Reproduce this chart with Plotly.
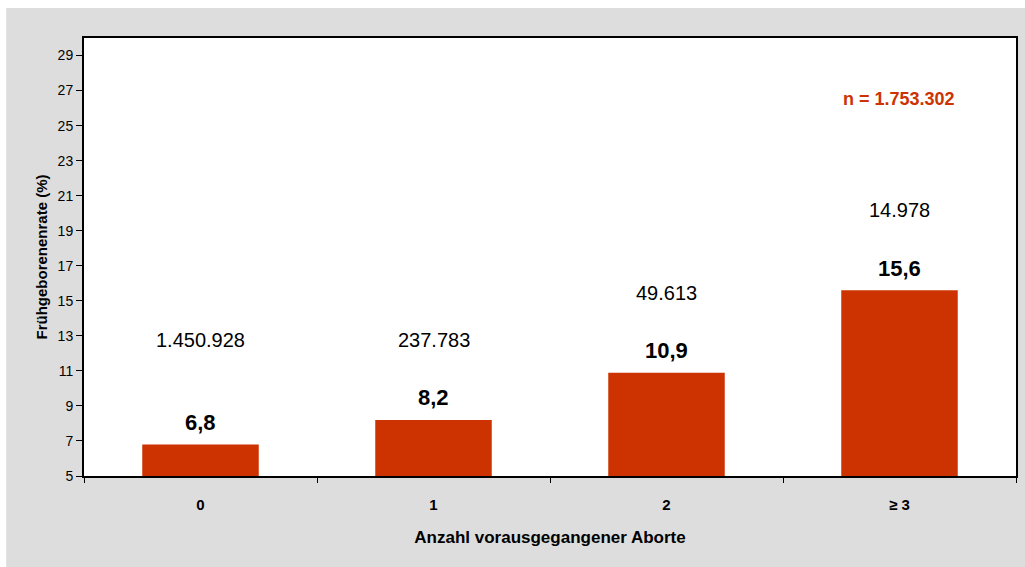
import plotly.graph_objects as go

categories = ["0", "1", "2", "≥ 3"]
rates = [6.8, 8.2, 10.9, 15.6]
rate_labels = ["6,8", "8,2", "10,9", "15,6"]
counts = ["1.450.928", "237.783", "49.613", "14.978"]
total_label = "n = 1.753.302"
y_ticks = list(range(5, 30, 2))

BAR = "#CC3300"
GRAY = "#DDDDDD"
FONT = "Arial, Liberation Sans, sans-serif"

W, H = 1025, 567
ML, MR, MT, MB = 84, 7, 38, 91
PW, PH = W - ML - MR, H - MT - MB

fig = go.Figure()
fig.add_trace(go.Bar(
    x=categories, y=[r - 5 for r in rates], base=5,
    marker=dict(color=BAR, line=dict(width=0)),
    width=0.5, hoverinfo="skip", showlegend=False,
))

annotations = []
for c, r, lab, n in zip(categories, rates, rate_labels, counts):
    annotations.append(dict(x=c, y=r, text="<b>%s</b>" % lab, showarrow=False,
                            yshift=22, font=dict(family=FONT, size=22, color="black")))
    ny = max(r, rates[1])
    annotations.append(dict(x=c, y=ny, text=n, showarrow=False, yshift=80,
                            font=dict(family=FONT, size=20, color="black")))
annotations.append(dict(x=0.874, xref="paper", xanchor="center", y=26.5, yref="y",
                        text="<b>%s</b>" % total_label,
                        showarrow=False, font=dict(family=FONT, size=18, color=BAR)))

# grey panel behind the chart, leaving a thin white border at top and left
panel = dict(type="rect", xref="paper", yref="paper", layer="below",
             x0=(6 - ML) / PW, x1=(W - ML) / PW + 0.02,
             y0=-(MB + 5) / PH, y1=(PH + MT - 8) / PH,
             fillcolor=GRAY, line=dict(width=0))
plot_bg = dict(type="rect", xref="paper", yref="paper", layer="below",
               x0=0, x1=1, y0=0, y1=1, fillcolor="white", line=dict(width=0))

fig.update_layout(
    width=W, height=H,
    margin=dict(l=ML, r=MR, t=MT, b=MB),
    paper_bgcolor="white", plot_bgcolor="white",
    font=dict(family=FONT, color="black"),
    annotations=annotations, shapes=[panel, plot_bg],
    bargap=0.5,
)
fig.update_xaxes(
    type="category", showgrid=False, showline=True, linecolor="black", linewidth=2,
    mirror=True, ticks="outside", tickson="boundaries", ticklen=5, tickcolor="black",
    tickwidth=1, tickfont=dict(family=FONT, size=15, color="black"),
    ticklabelstandoff=14,
    ticktext=["<b>%s</b>" % c for c in categories], tickvals=categories,
    title=dict(text="<b>Anzahl vorausgegangener Aborte</b>",
               font=dict(family=FONT, size=17, color="black"), standoff=19),
    fixedrange=True,
)
fig.update_yaxes(
    range=[5, 30], tickvals=y_ticks, showgrid=False, zeroline=False,
    showline=True, linecolor="black", linewidth=2, mirror=True,
    ticks="outside", ticklen=6, tickcolor="black", tickwidth=1,
    tickfont=dict(family=FONT, size=14, color="black"),
    title=dict(text="<b>Frühgeborenenrate (%)</b>",
               font=dict(family=FONT, size=15, color="black"), standoff=6),
    fixedrange=True,
)

fig.write_html("out.html", config={"displayModeBar": False},
               post_script="document.body.style.margin='0';"
                           "document.documentElement.style.overflow='hidden';"
                           "document.body.style.overflow='hidden';")
